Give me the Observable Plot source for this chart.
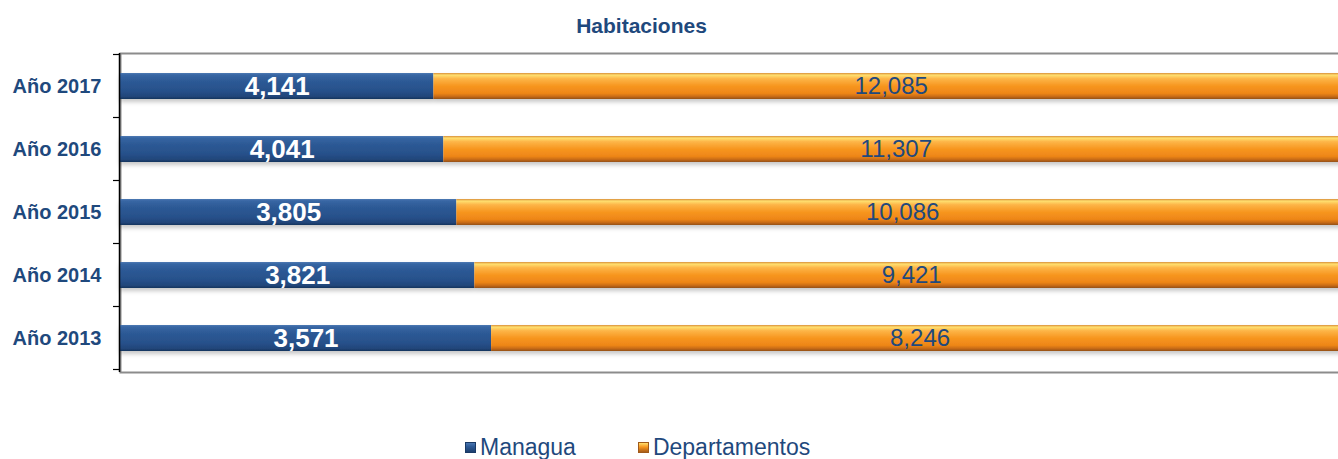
<!DOCTYPE html>
<html>
<head>
<meta charset="utf-8">
<script src="https://cdn.jsdelivr.net/npm/d3@7"></script>
<script src="https://cdn.jsdelivr.net/npm/@observablehq/plot@0.6"></script>
<style>
  html, body { margin: 0; padding: 0; background: #fff; overflow: hidden; }
  body { width: 1338px; height: 459px; font-family: "Liberation Sans", Arial, sans-serif; }
  #title {
    width: 1283px; height: 44px; box-sizing: border-box; padding-top: 15px;
    text-align: center; font-weight: bold; font-size: 21px; line-height: 21px; color: #1f497d;
  }
  #chart { width: 1338px; height: 368px; overflow: hidden; }
  #chart svg { max-width: none !important; }
  #legend {
    height: 47px; box-sizing: border-box; padding-top: 24px; padding-left: 465px;
    display: flex; align-items: center; font-size: 23px; line-height: 23px; color: #1f497d;
  }
  .item { display: flex; align-items: center; }
  .item + .item { margin-left: 62px; }
  .sw { width: 11px; height: 11px; margin-right: 4px; box-sizing: border-box; }
  .sw.m { background: linear-gradient(#4a76b0, #2d5a96 40%, #1d3f6e); border: 1px solid #1a3a66; }
  .sw.d { background: linear-gradient(#ffe070, #f7961f 45%, #a85c18); border: 1px solid #a05a1a; }
  g[aria-label="y-axis tick label"] text { font-weight: bold; }
</style>
</head>
<body>
<div id="title">Habitaciones</div>
<div id="chart"></div>
<div id="legend">
  <div class="item"><div class="sw m"></div><span>Managua</span></div>
  <div class="item"><div class="sw d"></div><span>Departamentos</span></div>
</div>
<script>
const years = ["Año 2017", "Año 2016", "Año 2015", "Año 2014", "Año 2013"];
const managua = [4141, 4041, 3805, 3821, 3571];
const departamentos = [12085, 11307, 10086, 9421, 8246];
const series = ["Managua", "Departamentos"];

const fills = {Managua: "url(#gBlue)", Departamentos: "url(#gOrange)"};
const fmt = d3.format(",");

const rows = years.flatMap((year, i) => [
  {year, series: series[0], value: managua[i]},
  {year, series: series[1], value: departamentos[i]}
]);

const stack = (extra) => Plot.stackX({x: "value", y: "year", z: "series", offset: "normalize", ...extra});

const plot = Plot.plot({
  width: 1348,
  height: 368,
  marginTop: 9,
  marginBottom: 40,
  marginLeft: 120,
  marginRight: 0,
  style: {fontFamily: "Liberation Sans, Arial, sans-serif", background: "transparent", maxWidth: "none"},
  x: {axis: null, domain: [0, 1]},
  y: {axis: null, domain: years, paddingInner: 0.58, paddingOuter: 0.29},
  color: {type: "identity"},
  marks: [
    Plot.frame({stroke: "#8c8c8c", strokeWidth: 2}),
    Plot.barX(rows, stack({fill: d => fills[d.series]})),
    Plot.text(rows, stack({
      text: d => d.series === "Managua" ? fmt(d.value) : null,
      fill: "white", fontSize: 26, fontWeight: "bold"
    })),
    Plot.text(rows, stack({
      text: d => d.series === "Departamentos" ? fmt(d.value) : null,
      fill: "#1f497d", fontSize: 24
    })),
    Plot.ruleX([0], {stroke: "#000", strokeWidth: 1.5, dx: -1}),
    Plot.axisY({tickSize: 0, tickPadding: 19, fontSize: 20, fontWeight: "bold", fill: "#1f497d", color: "#1f497d", label: null})
  ]
});

const svg = d3.select(plot);
const defs = svg.insert("defs", ":first-child");

const blue = defs.append("linearGradient").attr("id", "gBlue").attr("x1", 0).attr("y1", 0).attr("x2", 0).attr("y2", 1);
[[0, "#4d79b3"], [0.08, "#3766a3"], [0.3, "#2d5a96"], [0.7, "#27508a"], [0.9, "#21467a"], [1, "#17345e"]]
  .forEach(([o, c]) => blue.append("stop").attr("offset", o).attr("stop-color", c));

const orange = defs.append("linearGradient").attr("id", "gOrange").attr("x1", 0).attr("y1", 0).attr("x2", 0).attr("y2", 1);
[[0, "#d98e3a"], [0.08, "#ffe070"], [0.22, "#fdb548"], [0.5, "#f7961f"], [0.78, "#ee8618"], [0.9, "#c96c16"], [1, "#94521a"]]
  .forEach(([o, c]) => orange.append("stop").attr("offset", o).attr("stop-color", c));

const shadow = defs.append("filter").attr("id", "barShadow").attr("x", "-2%").attr("y", "-30%").attr("width", "104%").attr("height", "180%");
shadow.append("feDropShadow").attr("dx", 0).attr("dy", 3).attr("stdDeviation", 2)
  .attr("flood-color", "#000").attr("flood-opacity", 0.22);

svg.select('g[aria-label="bar"]').attr("filter", "url(#barShadow)");

// small ticks at the category boundaries, left of the axis line
const y = plot.scale("y");
const x0 = plot.scale("x").apply(0) - 1;
const gap = (y.step - y.bandwidth) / 2;
const bounds = years.map(c => y.apply(c) - gap).concat([y.apply(years[years.length - 1]) + y.bandwidth + gap]);
svg.append("g").selectAll("line").data(bounds).join("line")
  .attr("x1", x0 - 6).attr("x2", x0).attr("y1", d => d).attr("y2", d => d)
  .attr("stroke", "#000").attr("stroke-width", 1.2);

document.getElementById("chart").appendChild(plot);
</script>
</body>
</html>
